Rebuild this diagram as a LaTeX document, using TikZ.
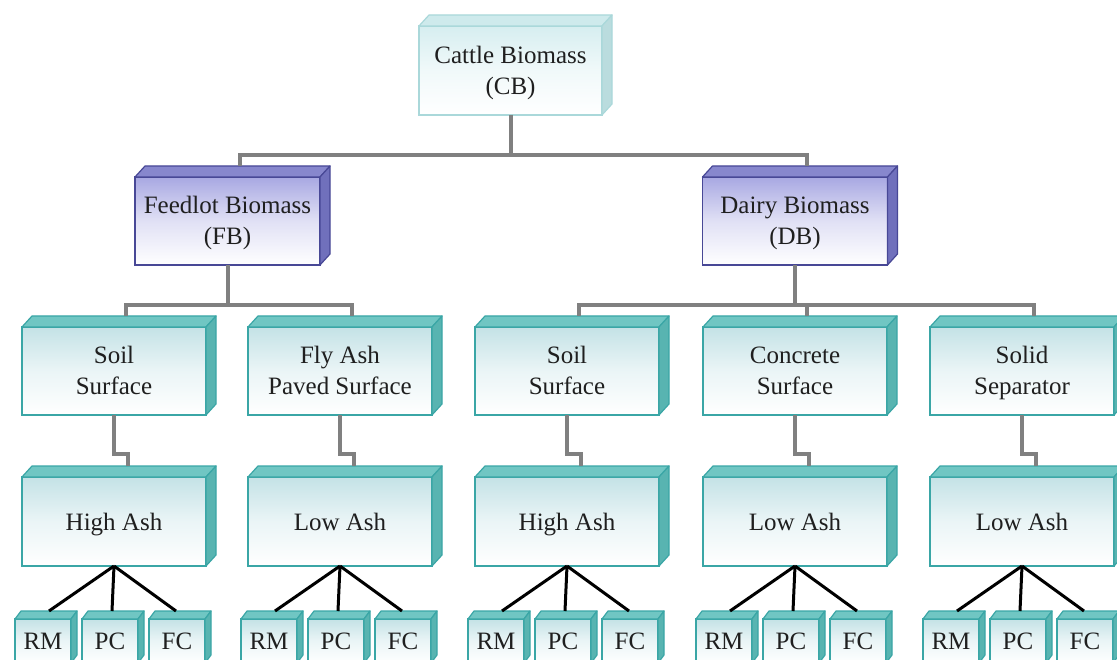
\documentclass[tikz,border=0pt]{standalone}
\usepackage{fontspec}
\setmainfont{Liberation Serif}
\usetikzlibrary{calc}
\definecolor{tealB}{RGB}{58,166,166}
\definecolor{tealTop}{RGB}{112,198,195}
\definecolor{tealSide}{RGB}{88,180,177}
\definecolor{tealFront}{RGB}{196,226,230}
\definecolor{cbB}{RGB}{170,216,218}
\definecolor{cbTop}{RGB}{206,234,236}
\definecolor{cbSide}{RGB}{186,220,222}
\definecolor{cbFront}{RGB}{214,238,240}
\definecolor{puB}{RGB}{72,72,150}
\definecolor{puTop}{RGB}{135,135,205}
\definecolor{puSide}{RGB}{112,112,188}
\definecolor{puFront}{RGB}{168,168,226}
\definecolor{connGray}{RGB}{128,128,128}
\newcommand\st{\rule[-6pt]{0pt}{29pt}}
\tikzset{
  face/.style={inner sep=0pt, outer sep=0pt, align=center,
    font=\fontsize{25}{31}\selectfont, text=black!88, line width=1.6pt},
  conn/.style={draw=connGray, line width=4pt},
  blk/.style={draw=black, line width=3pt},
}
% #1 name, #2 colour prefix, #3 x, #4 y, #5 width, #6 height, #7 dx, #8 dy, #9 text
\newcommand\boxthree[9]{%
  \node[face, draw=#2B, top color=#2Front, bottom color=white, middle color=#2Front!35!white,
        minimum width=#5pt, minimum height=#6pt] (#1) at (#3,#4) {#9};
  \filldraw[line width=1.2pt, draw=#2B, fill=#2Top, line join=round]
    (#1.north west) -- ++(#7,-#8) -- ([shift={(#7,-#8)}]#1.north east) -- (#1.north east) -- cycle;
  \filldraw[line width=1.2pt, draw=#2B, fill=#2Side, line join=round]
    (#1.north east) -- ++(#7,-#8) -- ([shift={(#7,-#8)}]#1.south east) -- (#1.south east) -- cycle;
}
\begin{document}
\begin{tikzpicture}[x=1pt,y=-1pt]
\useasboundingbox (0,0) rectangle (1117,660);
\fill[white] (0,0) rectangle (1117,660);
\clip (0,0) rectangle (1117,660);

% level 1 and 2
\boxthree{CB}{cb}{510.5}{70.5}{183}{89}{10}{11}{\st Cattle Biomass\\\st(CB)}
\boxthree{FB}{pu}{227.5}{221}{185}{88}{10}{11}{\st Feedlot Biomass\\\st(FB)}
\boxthree{DB}{pu}{795}{221}{185}{88}{10}{11}{\st Dairy Biomass\\\st(DB)}

% level 3, 4, 5
\foreach \n/\L/\ta/\tb in {a/22/{\st Soil\\\st Surface}/High Ash,
                           b/248/{\st Fly Ash\\\st Paved Surface}/Low Ash,
                           c/475/{\st Soil\\\st Surface}/High Ash,
                           d/703/{\st Concrete\\\st Surface}/Low Ash,
                           e/930/{\st Solid\\\st Separator}/Low Ash}{
  \boxthree{l3\n}{teal}{\L+92}{371}{184}{88}{10}{11}{\ta}
  \boxthree{l4\n}{teal}{\L+92}{521.5}{184}{89}{10}{11}{\st\tb}
  \boxthree{rm\n}{teal}{\L+21}{641}{56}{44}{6}{8}{\st RM}
  \boxthree{pc\n}{teal}{\L+88}{641}{56}{44}{6}{8}{\st PC}
  \boxthree{fc\n}{teal}{\L+155}{641}{56}{44}{6}{8}{\st FC}
  \draw[conn] (l3\n.south) -- ++(0,39) -| ([xshift=14pt,yshift=11pt]l4\n.north);
  \draw[blk] (l4\n.south) -- ([xshift=6pt,yshift=8pt]rm\n.north);
  \draw[blk] (l4\n.south) -- ([xshift=2pt,yshift=8pt]pc\n.north);
  \draw[blk] (l4\n.south) -- ([xshift=-1pt,yshift=8pt]fc\n.north);
}

% connectors
\draw[conn] (CB.south) -- ++(0,40) -| ([xshift=12pt,yshift=11pt]FB.north);
\draw[conn] (CB.south) -- ++(0,40) -| ([xshift=12pt,yshift=11pt]DB.north);
\draw[conn] (FB.south) -- ++(0,40) -| ([xshift=12pt,yshift=11pt]l3a.north);
\draw[conn] (FB.south) -- ++(0,40) -| ([xshift=12pt,yshift=11pt]l3b.north);
\draw[conn] (DB.south) -- ++(0,40) -| ([xshift=12pt,yshift=11pt]l3c.north);
\draw[conn] (DB.south) -- ++(0,40) -| ([xshift=12pt,yshift=11pt]l3d.north);
\draw[conn] (DB.south) -- ++(0,40) -| ([xshift=12pt,yshift=11pt]l3e.north);
\end{tikzpicture}
\end{document}
